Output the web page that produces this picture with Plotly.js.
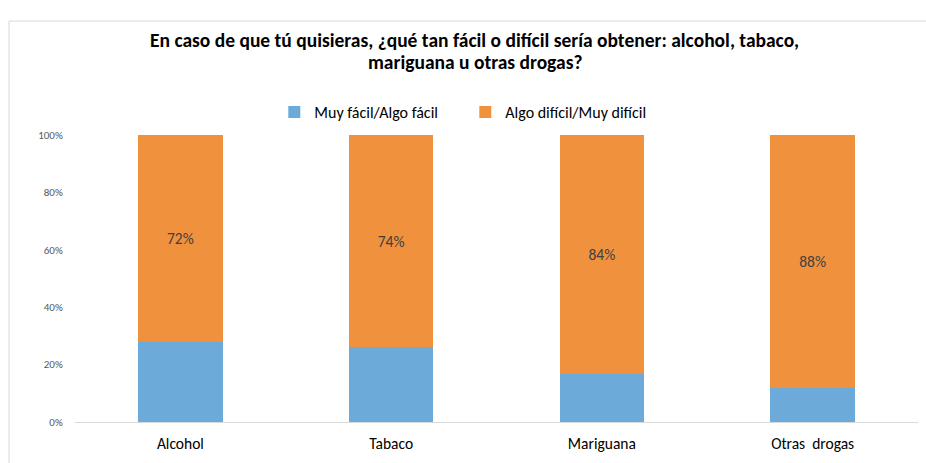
<!DOCTYPE html>
<html>
<head>
<meta charset="utf-8">
<script src="https://cdn.plot.ly/plotly-3.0.1.min.js"></script>
<style>
html,body{margin:0;padding:0;background:#fff;}
#chart{width:926px;height:463px;}
</style>
</head>
<body>
<div id="chart"></div>
<script>
const categories = ["Alcohol", "Tabaco", "Mariguana", "Otras  drogas"];
const facil = [28, 26, 17, 12];
const dificil = [72, 74, 84, 88];
const seriesNames = ["Muy fácil/Algo fácil", "Algo difícil/Muy difícil"];
const yTickVals = [0, 20, 40, 60, 80, 100];
const yTickText = ["0%", "20%", "40%", "60%", "80%", "100%"];
const titleLines = [
  "En caso de que tú quisieras, ¿qué tan fácil o difícil sería obtener: alcohol, tabaco,",
  "mariguana u otras drogas?"
];

const FONT = "Carlito, 'Liberation Sans Narrow', 'DejaVu Sans Condensed', 'Noto Sans', sans-serif";

const traces = [
  {
    type: "bar", name: seriesNames[0], x: categories, y: facil,
    marker: {color: "#6BAAD9"},
    hoverinfo: "skip"
  },
  {
    type: "bar", name: seriesNames[1], x: categories, y: dificil,
    marker: {color: "#F0913D"},
    text: dificil.map(v => v + "%"),
    textposition: "inside", insidetextanchor: "middle",
    textfont: {family: FONT, size: 15.5, color: "#404040"},
    hoverinfo: "skip"
  }
];

const titleY = [1.3307, 1.2541];

const layout = {
  width: 926, height: 463,
  margin: {l: 75, r: 8, t: 135, b: 41},
  barmode: "stack", barnorm: "percent", bargap: 0.6,
  paper_bgcolor: "#fff", plot_bgcolor: "#fff",
  font: {family: FONT},
  annotations: titleLines.map((t, i) => ({
    text: "<b>" + t + "</b>", xref: "paper", yref: "paper",
    x: 0.474, y: titleY[i], xanchor: "center", yanchor: "middle",
    showarrow: false, font: {family: FONT, size: 19.5, color: "#000"}
  })),
  showlegend: true,
  legend: {
    orientation: "h", x: 0.463, xanchor: "center", y: 1.08, yanchor: "middle",
    font: {family: FONT, size: 16, color: "#000"},
    traceorder: "normal", entrywidth: 146
  },
  xaxis: {
    showgrid: false, zeroline: false, showline: true, linecolor: "#D9D9D9", linewidth: 1,
    ticks: "outside", ticklen: 7, tickcolor: "rgba(0,0,0,0)",
    tickfont: {family: FONT, size: 15.5, color: "#000"}
  },
  yaxis: {
    range: [0, 100], showgrid: false, zeroline: false, showline: false,
    tickvals: yTickVals, ticktext: yTickText,
    ticks: "outside", ticklen: 9, tickcolor: "rgba(0,0,0,0)",
    tickfont: {family: FONT, size: 11, color: "#595959"}
  },
  shapes: [{
    type: "rect", xref: "paper", yref: "paper",
    x0: -0.0783, x1: 1.02, y0: -0.2, y1: 1.397,
    line: {color: "#D9D9D9", width: 1}, fillcolor: "rgba(0,0,0,0)", layer: "below"
  }]
};

Plotly.newPlot("chart", traces, layout, {displayModeBar: false, staticPlot: true});
</script>
</body>
</html>
